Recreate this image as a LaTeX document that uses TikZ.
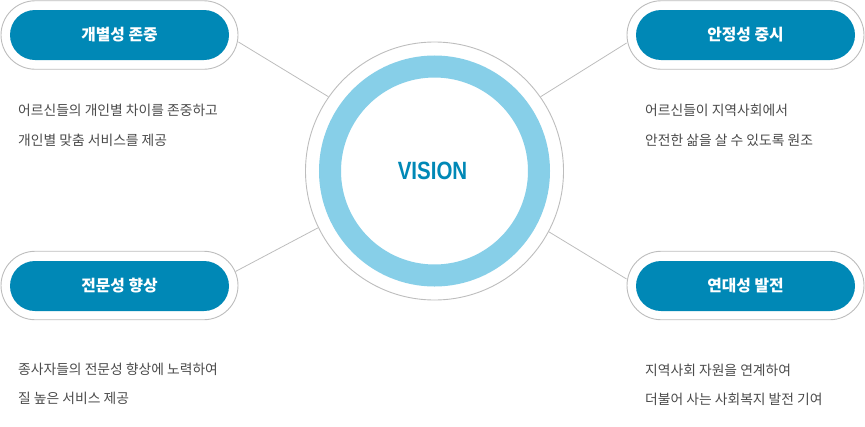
\documentclass[tikz,border=0pt]{standalone}
\usepackage{fontspec}
\newfontfamily\kr{Noto Sans CJK KR}
\newfontfamily\vsn{Liberation Sans}
\usetikzlibrary{shapes.misc,calc}
\definecolor{pillblue}{HTML}{0088B6}
\definecolor{ringblue}{HTML}{87CFE8}
\definecolor{edgegray}{HTML}{BDBDBD}
\definecolor{bodygray}{HTML}{4A4A4A}
\tikzset{
  outerpill/.style={rounded rectangle, draw=edgegray, line width=0.9pt, fill=white, minimum width=237pt, minimum height=68.5pt, inner sep=0pt},
  innerpill/.style={rounded rectangle, fill=pillblue, minimum width=219pt, minimum height=50pt, inner sep=0pt, text=white, font=\kr\bfseries\fontsize{15.8}{18}\selectfont},
  body/.style={anchor=west, inner sep=0pt, text=bodygray, font=\kr\fontsize{13.8}{16}\selectfont},
  conn/.style={draw=edgegray, line width=0.8pt},
}
\begin{document}
\begin{tikzpicture}[x=1pt,y=-1pt]
\useasboundingbox (0,0) rectangle (865,426);
\node[circle, draw=edgegray, line width=0.9pt, fill=white, minimum size=258pt, inner sep=0pt] (vis) at (434.5,171) {};
\node[outerpill] (tlo) at (119.5,35) {};
\node[outerpill] (tro) at (745.5,35) {};
\node[outerpill] (blo) at (119.5,285.5) {};
\node[outerpill] (bro) at (745.5,285.5) {};
\draw[conn] ([yshift=-7pt]tlo.east) -- (vis.145);
\draw[conn] ([yshift=-8pt]tro.west) -- (vis.35);
\draw[conn] ([xshift=-3pt,yshift=14pt]blo.east) -- (vis.206);
\draw[conn] ([yshift=6.5pt]bro.west) -- (vis.332);
\draw[ringblue, line width=22pt] (vis.center) circle[radius=104.5pt];
\node[text=pillblue, font=\vsn\bfseries\fontsize{25}{28}\selectfont, xscale=0.82, inner sep=0pt] (vtext) at (432.5,171) {VISION};
\node[innerpill] (tl) at (119.5,35) {개별성 존중};
\node[innerpill] (tr) at (745.5,35) {안정성 중시};
\node[innerpill] (bl) at (119.5,286) {전문성 향상};
\node[innerpill] (br) at (745.5,286) {연대성 발전};
\node[body] (t1) at (18,110) {어르신들의 개인별 차이를 존중하고};
\node[body] (t2) at (18,140) {개인별 맞춤 서비스를 제공};
\node[body] (t3) at (645,110) {어르신들이 지역사회에서};
\node[body] (t4) at (645,140) {안전한 삶을 살 수 있도록 원조};
\node[body] (t5) at (18,369) {종사자들의 전문성 향상에 노력하여};
\node[body] (t6) at (18,398) {질 높은 서비스 제공};
\node[body] (t7) at (645,370) {지역사회 자원을 연계하여};
\node[body] (t8) at (645,399) {더불어 사는 사회복지 발전 기여};
\end{tikzpicture}
\end{document}
